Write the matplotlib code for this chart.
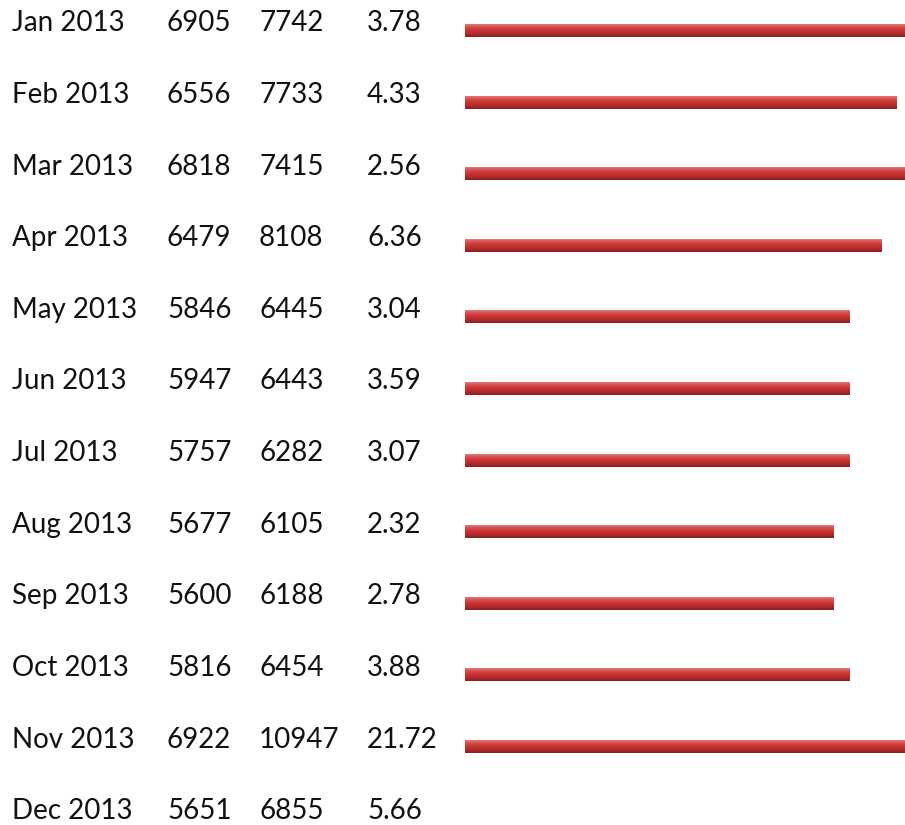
import numpy as np
import matplotlib
matplotlib.use("Agg")
import matplotlib.pyplot as plt
from matplotlib.colors import LinearSegmentedColormap

months = ["Jan 2013", "Feb 2013", "Mar 2013", "Apr 2013", "May 2013", "Jun 2013",
          "Jul 2013", "Aug 2013", "Sep 2013", "Oct 2013", "Nov 2013", "Dec 2013"]
col_a = [6905, 6556, 6818, 6479, 5846, 5947, 5757, 5677, 5600, 5816, 6922, 5651]
col_b = [7742, 7733, 7415, 8108, 6445, 6443, 6282, 6105, 6188, 6454, 10947, 6855]
col_c = ["3.78", "4.33", "2.56", "6.36", "3.04", "3.59", "3.07", "2.32", "2.78", "3.88", "21.72", "5.66"]
# bar lengths (last row has no bar)
bar_len = [440, 432, 440, 417, 385, 385, 385, 369, 369, 385, 440, 0]

plt.rcParams['font.family'] = ['Lato', 'DejaVu Sans']

fig = plt.figure(figsize=(9.05, 8.25), dpi=100)
ax = fig.add_axes([0, 0, 1, 1])
ax.set_ylim(11.194, -0.328)
ax.set_xlim(0, 1)
ax.axis("off")

# text columns, left aligned
col_x = [12 / 905, 167 / 905, 259 / 905, 367 / 905]
fs = 20
for i, m in enumerate(months):
    row = [m, str(col_a[i]), str(col_b[i]), col_c[i]]
    for x, t in zip(col_x, row):
        ax.text(x, i, t, ha="left", va="center", fontsize=fs, color="#111111")

# bars with a vertical red gradient (light on top, dark at bottom)
axb = fig.add_axes([465 / 905, 0, 1 - 465 / 905, 1], sharey=ax)
axb.axis("off")
cmap = LinearSegmentedColormap.from_list(
    "barred", ["#e47a7a", "#d84848", "#c83232", "#b02a2a", "#8a2020"])
grad = np.linspace(0, 1, 64).reshape(-1, 1)
off, h = 0.098, 0.18
for i, v in enumerate(bar_len):
    if v <= 0:
        continue
    axb.imshow(grad, cmap=cmap, aspect="auto", interpolation="bilinear",
               extent=[0, v, i + off - h / 2, i + off + h / 2], origin="lower")
axb.set_ylim(11.194, -0.328)
axb.set_xlim(0, 440)

fig.savefig("out.png", dpi=100, facecolor="white")
